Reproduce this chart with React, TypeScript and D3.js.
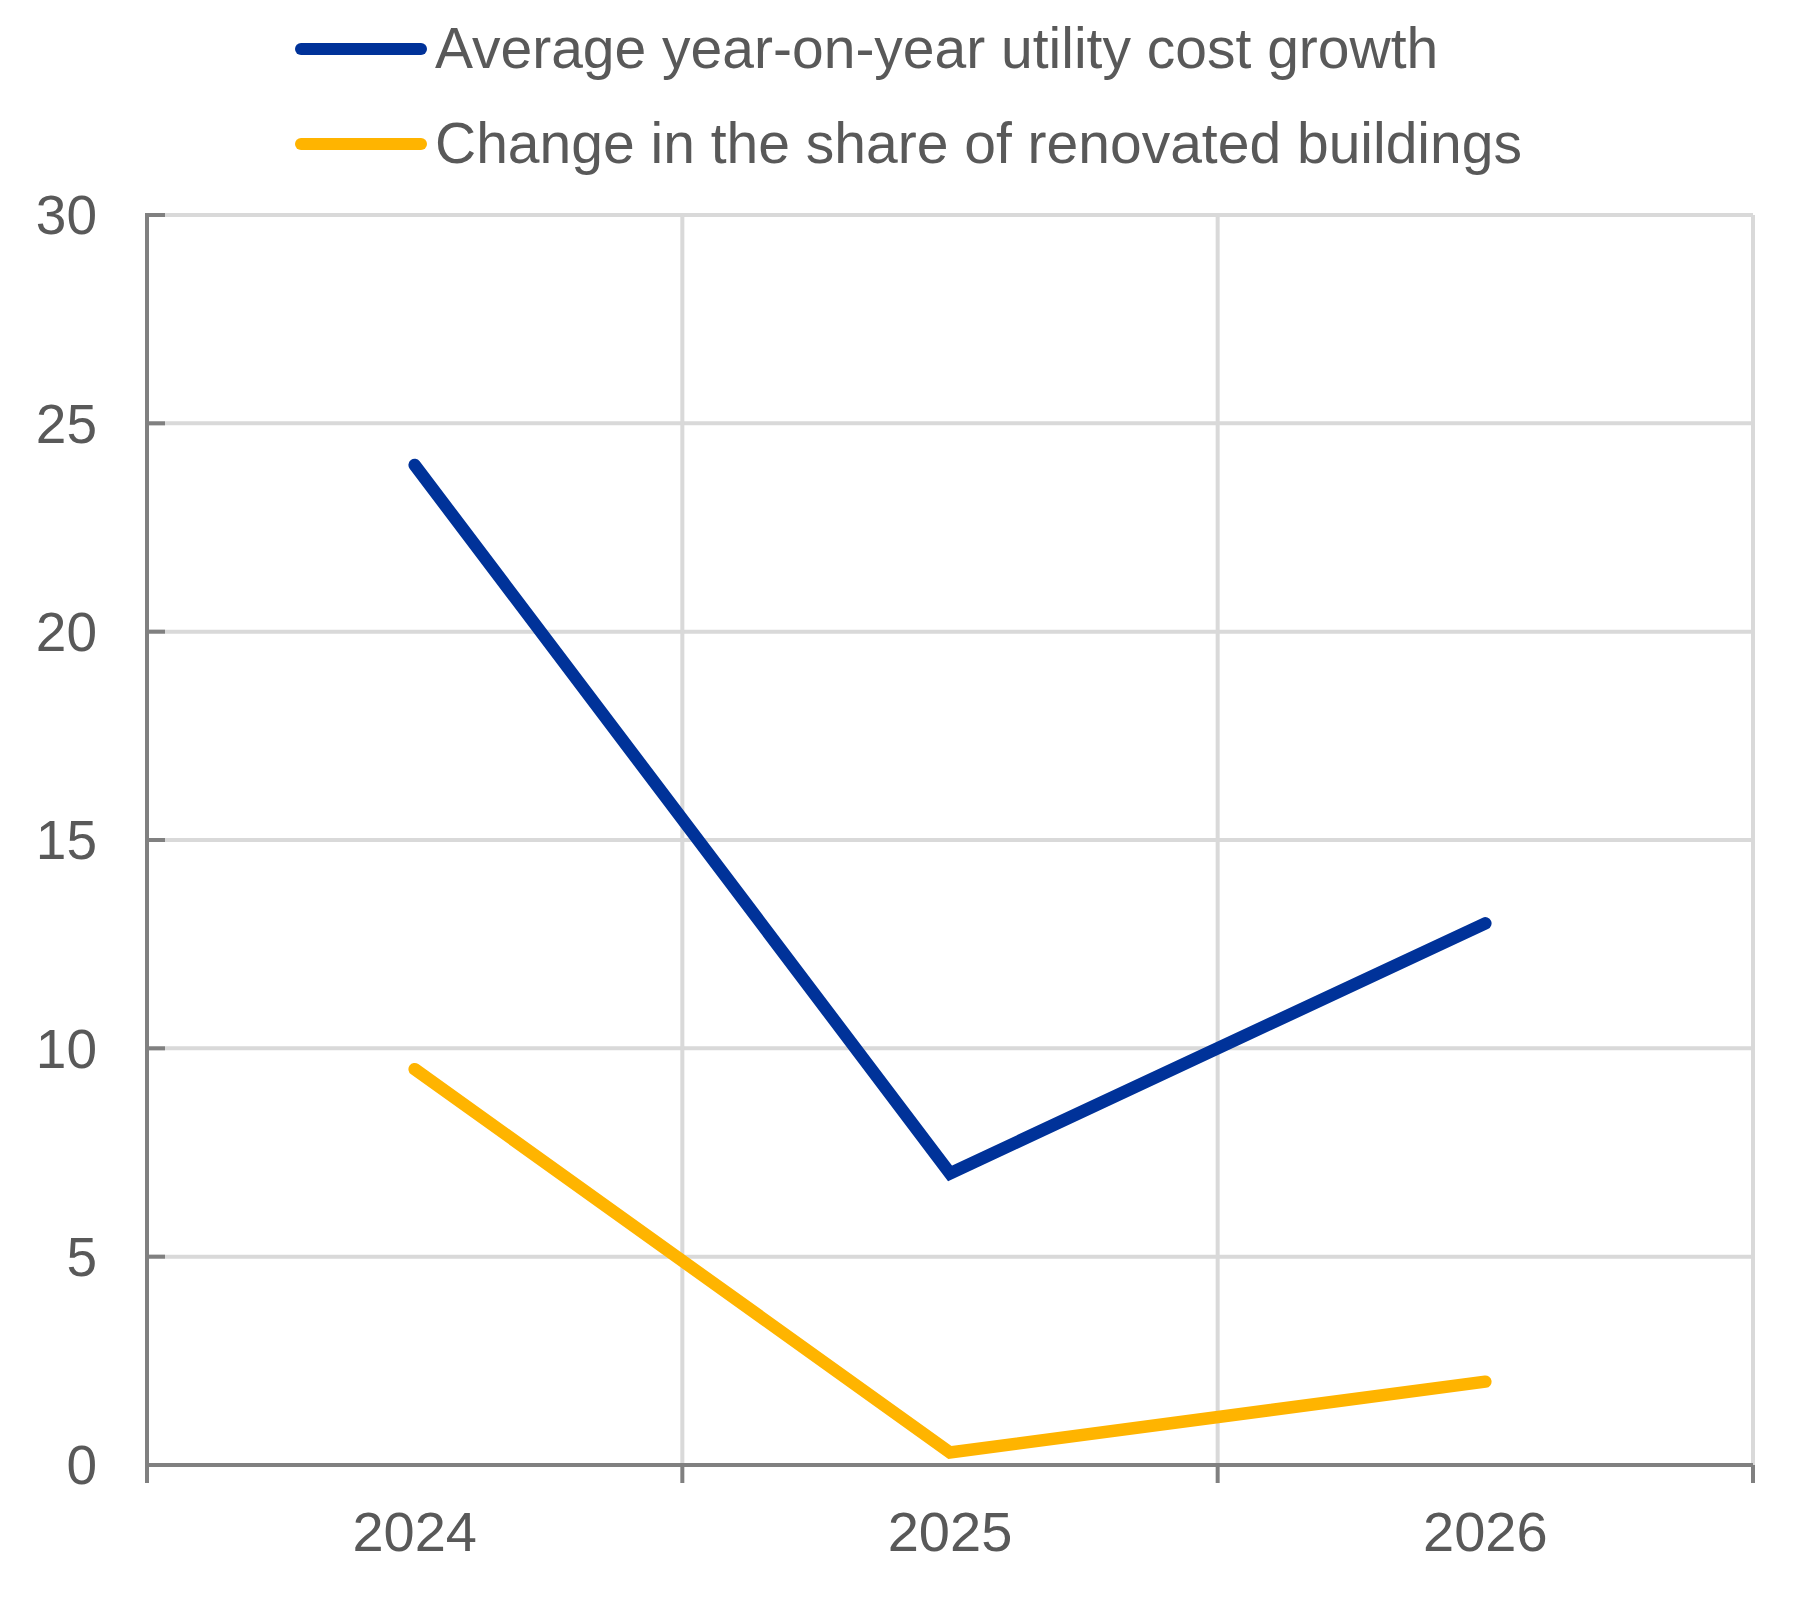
import { useEffect, useRef } from 'react'
import * as d3 from 'd3'

const years = ['2024', '2025', '2026']
const costGrowth = [24, 7, 13]
const renovatedShare = [9.5, 0.3, 2]
const yTicks = [0, 5, 10, 15, 20, 25, 30]

const seriesNames = [
  'Average year-on-year utility cost growth',
  'Change in the share of renovated buildings',
]
const seriesColors = ['#003299', '#ffb400']

export default function App() {
  const svgRef = useRef<SVGSVGElement>(null)

  useEffect(() => {
    const svg = d3.select(svgRef.current)
    svg.selectAll('*').remove()

    const W = 1796
    const H = 1609
    const margin = { top: 215, right: 43, bottom: 144, left: 147 }
    const innerW = W - margin.left - margin.right
    const innerH = H - margin.top - margin.bottom
    const font = 'Arial, "Liberation Sans", sans-serif'
    const textColor = '#595959'
    const axisColor = '#808080'
    const gridColor = '#d9d9d9'

    svg.attr('width', W).attr('height', H)
    svg.append('rect').attr('width', W).attr('height', H).attr('fill', '#fff')

    const g = svg.append('g').attr('transform', `translate(${margin.left},${margin.top})`)

    const x = d3.scaleBand<string>().domain(years).range([0, innerW])
    const y = d3.scaleLinear().domain([0, 30]).range([innerH, 0])

    // horizontal grid
    g.selectAll('.grid-y')
      .data(yTicks.filter((d) => d > 0))
      .enter()
      .append('line')
      .attr('x1', 0)
      .attr('x2', innerW)
      .attr('y1', (d) => y(d))
      .attr('y2', (d) => y(d))
      .attr('stroke', gridColor)
      .attr('stroke-width', 4)

    // vertical grid at category boundaries
    const bounds = years.map((d) => x(d)!).concat([innerW]).slice(1)
    g.selectAll('.grid-x')
      .data(bounds)
      .enter()
      .append('line')
      .attr('x1', (d) => d)
      .attr('x2', (d) => d)
      .attr('y1', 0)
      .attr('y2', innerH)
      .attr('stroke', gridColor)
      .attr('stroke-width', 4)

    // y axis
    g.append('line')
      .attr('x1', 0)
      .attr('x2', 0)
      .attr('y1', -2)
      .attr('y2', innerH)
      .attr('stroke', axisColor)
      .attr('stroke-width', 4)
    g.selectAll('.ytick')
      .data(yTicks)
      .enter()
      .append('line')
      .attr('x1', 0)
      .attr('x2', 18)
      .attr('y1', (d) => y(d))
      .attr('y2', (d) => y(d))
      .attr('stroke', axisColor)
      .attr('stroke-width', 4)
    g.selectAll('.ylabel')
      .data(yTicks)
      .enter()
      .append('text')
      .attr('x', -50)
      .attr('y', (d) => y(d))
      .attr('dy', '0.35em')
      .attr('text-anchor', 'end')
      .attr('fill', textColor)
      .style('font-family', font)
      .style('font-size', '55px')
      .text((d) => `${d}`)

    // x axis
    g.append('line')
      .attr('x1', 0)
      .attr('x2', innerW)
      .attr('y1', innerH)
      .attr('y2', innerH)
      .attr('stroke', axisColor)
      .attr('stroke-width', 4)
    g.selectAll('.xtick')
      .data([0].concat(bounds))
      .enter()
      .append('line')
      .attr('x1', (d) => d)
      .attr('x2', (d) => d)
      .attr('y1', innerH)
      .attr('y2', innerH + 18)
      .attr('stroke', axisColor)
      .attr('stroke-width', 4)
    g.selectAll('.xlabel')
      .data(years)
      .enter()
      .append('text')
      .attr('x', (d) => x(d)! + x.bandwidth() / 2)
      .attr('y', innerH + 86)
      .attr('text-anchor', 'middle')
      .attr('fill', textColor)
      .style('font-family', font)
      .style('font-size', '56px')
      .text((d) => d)

    // lines
    const line = d3
      .line<number>()
      .x((_, i) => x(years[i])! + x.bandwidth() / 2)
      .y((d) => y(d))

    ;[costGrowth, renovatedShare].forEach((data, i) => {
      g.append('path')
        .datum(data)
        .attr('fill', 'none')
        .attr('stroke', seriesColors[i])
        .attr('stroke-width', 12.5)
        .attr('stroke-linecap', 'round')
        .attr('stroke-linejoin', 'miter')
        .attr('d', line)
    })

    // legend
    const legend = svg.append('g')
    seriesNames.forEach((name, i) => {
      const ly = 49 + i * 95
      legend
        .append('line')
        .attr('x1', 301)
        .attr('x2', 421)
        .attr('y1', ly)
        .attr('y2', ly)
        .attr('stroke', seriesColors[i])
        .attr('stroke-width', 12)
        .attr('stroke-linecap', 'round')
      legend
        .append('text')
        .attr('x', 435)
        .attr('y', ly + 19)
        .attr('fill', textColor)
        .style('font-family', font)
        .style('font-size', '57px')
        .text(name)
    })
  }, [])

  return (
    <div style={{ position: 'absolute', left: 0, top: 0 }}>
      <svg ref={svgRef} style={{ display: 'block' }} />
    </div>
  )
}
